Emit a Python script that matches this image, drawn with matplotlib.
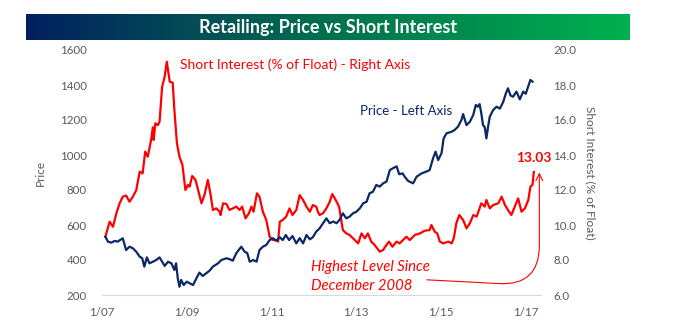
import numpy as np
import matplotlib
matplotlib.use("Agg")
import matplotlib.pyplot as plt
from matplotlib.colors import LinearSegmentedColormap

# Retailing index price (left axis), dates as decimal years
price_dates = [
    2007.08, 2007.14, 2007.22, 2007.30, 2007.37, 2007.49, 2007.57, 2007.65, 2007.73, 2007.81,
    2007.89, 2007.95, 2008.00, 2008.06, 2008.12, 2008.20, 2008.28, 2008.36, 2008.42, 2008.48,
    2008.56, 2008.64, 2008.71, 2008.75, 2008.79, 2008.83, 2008.87, 2008.93, 2009.00, 2009.07,
    2009.15, 2009.23, 2009.30, 2009.38, 2009.46, 2009.54, 2009.62, 2009.74, 2009.82, 2009.94,
    2010.01, 2010.09, 2010.17, 2010.29, 2010.37, 2010.43, 2010.49, 2010.57, 2010.65, 2010.72,
    2010.80, 2010.88, 2010.96, 2011.04, 2011.12, 2011.20, 2011.27, 2011.34, 2011.42, 2011.50,
    2011.59, 2011.67, 2011.75, 2011.83, 2011.91, 2011.98, 2012.06, 2012.14, 2012.22, 2012.30,
    2012.38, 2012.46, 2012.54, 2012.61, 2012.69, 2012.77, 2012.85, 2012.93, 2013.01, 2013.09,
    2013.17, 2013.25, 2013.32, 2013.40, 2013.48, 2013.56, 2013.64, 2013.72, 2013.80, 2013.87,
    2013.96, 2014.02, 2014.10, 2014.15, 2014.23, 2014.35, 2014.43, 2014.55, 2014.66, 2014.74,
    2014.82, 2014.88, 2014.94, 2015.02, 2015.07, 2015.14, 2015.26, 2015.33, 2015.41, 2015.49,
    2015.53, 2015.61, 2015.69, 2015.77, 2015.83, 2015.88, 2015.92, 2015.96, 2016.00, 2016.04,
    2016.08, 2016.12, 2016.16, 2016.24, 2016.32, 2016.40, 2016.48, 2016.54, 2016.59, 2016.65,
    2016.71, 2016.79, 2016.87, 2016.95, 2017.01, 2017.07, 2017.12, 2017.17,
]
price = [
    533, 505, 499, 509, 505, 524, 457, 476, 467, 447,
    419, 410, 362, 415, 381, 390, 400, 415, 390, 366,
    390, 381, 343, 381, 295, 247, 286, 257, 276, 267,
    257, 295, 328, 309, 324, 339, 362, 381, 400, 410,
    405, 396, 438, 476, 447, 440, 390, 400, 390, 457,
    476, 486, 514, 524, 510, 530, 514, 543, 514, 537,
    495, 525, 495, 543, 518, 530, 562, 581, 610, 638,
    610, 620, 610, 629, 667, 638, 648, 667, 676, 695,
    724, 733, 781, 790, 829, 819, 838, 848, 914, 924,
    935, 890, 895, 876, 852, 838, 876, 895, 905, 914,
    981, 1019, 971, 1010, 1095, 1124, 1133, 1143, 1162, 1200,
    1234, 1171, 1190, 1229, 1286, 1276, 1291, 1238, 1171, 1160,
    1095, 1162, 1219, 1257, 1276, 1265, 1305, 1352, 1381, 1340,
    1333, 1362, 1318, 1362, 1350, 1394, 1429, 1419,
]

# Short interest, % of float (right axis)
si_dates = [
    2007.08, 2007.18, 2007.26, 2007.34, 2007.41, 2007.49, 2007.57, 2007.65, 2007.73, 2007.81,
    2007.89, 2007.96, 2008.02, 2008.08, 2008.16, 2008.20, 2008.22, 2008.26, 2008.32, 2008.36,
    2008.42, 2008.48, 2008.53, 2008.60, 2008.67, 2008.71, 2008.77, 2008.83, 2008.90, 2008.97,
    2009.03, 2009.07, 2009.13, 2009.21, 2009.29, 2009.35, 2009.42, 2009.50, 2009.56, 2009.62,
    2009.70, 2009.78, 2009.80, 2009.86, 2009.94, 2010.01, 2010.09, 2010.17, 2010.25, 2010.31,
    2010.39, 2010.47, 2010.53, 2010.58, 2010.66, 2010.72, 2010.80, 2010.88, 2010.96, 2011.04,
    2011.12, 2011.16, 2011.20, 2011.27, 2011.35, 2011.43, 2011.50, 2011.59, 2011.67, 2011.75,
    2011.83, 2011.91, 2011.98, 2012.06, 2012.10, 2012.14, 2012.22, 2012.30, 2012.38, 2012.44,
    2012.52, 2012.60, 2012.69, 2012.77, 2012.85, 2012.93, 2013.05, 2013.13, 2013.21, 2013.28,
    2013.36, 2013.44, 2013.56, 2013.64, 2013.72, 2013.78, 2013.86, 2013.96, 2014.03, 2014.11,
    2014.19, 2014.27, 2014.39, 2014.51, 2014.62, 2014.74, 2014.78, 2014.86, 2014.92, 2014.98,
    2015.06, 2015.18, 2015.26, 2015.31, 2015.37, 2015.44, 2015.53, 2015.61, 2015.69, 2015.77,
    2015.85, 2015.96, 2016.04, 2016.08, 2016.16, 2016.24, 2016.36, 2016.44, 2016.52, 2016.59,
    2016.67, 2016.75, 2016.83, 2016.91, 2016.99, 2017.07, 2017.12, 2017.17, 2017.20,
]
short_interest = [
    9.33, 10.19, 9.90, 10.67, 11.20, 11.62, 11.68, 11.33, 11.62, 12.00,
    13.05, 12.95, 14.19, 13.90, 14.86, 15.58, 14.86, 15.81, 15.71, 15.90,
    17.90, 18.47, 19.33, 18.19, 18.13, 16.57, 14.67, 13.90, 13.43, 12.00,
    12.29, 12.19, 12.80, 12.57, 11.81, 11.24, 11.71, 12.57, 11.81, 10.86,
    10.95, 10.76, 10.57, 11.24, 11.20, 10.86, 10.95, 11.05, 10.86, 11.05,
    10.38, 10.67, 11.05, 10.76, 11.81, 11.62, 10.76, 10.29, 9.33, 9.14,
    9.14, 9.05, 10.19, 10.29, 10.48, 10.95, 10.57, 10.86, 11.71, 11.43,
    11.05, 10.76, 11.14, 11.05, 10.76, 10.57, 10.67, 10.95, 11.33, 11.77,
    11.43, 11.05, 9.71, 9.52, 9.43, 9.24, 8.95, 9.52, 9.24, 9.52,
    9.05, 8.86, 8.48, 8.57, 8.86, 9.05, 8.76, 9.05, 8.95, 9.14,
    9.33, 9.14, 9.43, 9.52, 9.67, 9.71, 10.00, 9.62, 9.52, 9.05,
    8.95, 9.05, 8.95, 9.24, 10.10, 10.57, 10.29, 9.81, 10.10, 10.57,
    10.48, 11.24, 11.05, 11.43, 10.95, 11.14, 11.24, 11.62, 11.14, 10.86,
    10.57, 11.05, 11.52, 10.76, 10.95, 11.43, 12.19, 12.29, 13.03,
]

tick_years = [2007, 2009, 2011, 2013, 2015, 2017]
tick_labels = ["1/07", "1/09", "1/11", "1/13", "1/15", "1/17"]
price_ticks = [200, 400, 600, 800, 1000, 1200, 1400, 1600]
si_ticks = [6.0, 8.0, 10.0, 12.0, 14.0, 16.0, 18.0, 20.0]

NAVY = "#0B2765"
RED = "#FF0000"
GREY = "#595959"

plt.rcParams["font.family"] = ["Lato", "DejaVu Sans"]

fig = plt.figure(figsize=(6.78, 3.31), dpi=100)

# gradient title banner
bax = fig.add_axes([26 / 678, 1 - 40 / 331, 604 / 678, 26 / 331])
cmap = LinearSegmentedColormap.from_list("banner", ["#03205E", "#00704F", "#00B050"])
bax.imshow(np.linspace(0, 1, 256).reshape(1, -1), aspect="auto", cmap=cmap,
           extent=[0, 1, 0, 1])
bax.set_axis_off()
bax.text(0.5, 0.48, "Retailing: Price vs Short Interest", color="white",
         fontsize=13, fontweight="bold", ha="center", va="center",
         transform=bax.transAxes)

ax = fig.add_axes([102 / 678, 1 - 295 / 331, 439 / 678, 245 / 331])
ax2 = ax.twinx()

ax.plot(price_dates, price, color=NAVY, lw=1.6, zorder=3)
ax2.plot(si_dates, short_interest, color=RED, lw=1.6)
ax.set_zorder(ax2.get_zorder() + 1)
ax.patch.set_visible(False)

ax.set_xlim(2007.0, 2017.37)
ax.set_ylim(200, 1600)
ax2.set_ylim(6, 20)
ax.set_xticks(tick_years)
ax.set_xticklabels(tick_labels)
ax.set_yticks(price_ticks)
ax2.set_yticks(si_ticks)
ax2.set_yticklabels([f"{v:.1f}" for v in si_ticks])

for a in (ax, ax2):
    for s in a.spines.values():
        s.set_visible(False)
    a.tick_params(length=0, colors=GREY, labelsize=8.3)
ax.spines["bottom"].set_visible(True)
ax.spines["bottom"].set_color("#D9D9D9")
ax.tick_params(axis="x", pad=9)
ax.tick_params(axis="y", pad=11)
ax2.tick_params(axis="y", pad=9)

ax.set_ylabel("Price", color=GREY, fontsize=8.5, labelpad=10)
ax2.set_ylabel("Short Interest (% of Float)", color=GREY, fontsize=8.5,
               rotation=270, labelpad=14)

ax.text(0.178, 0.939, "Short Interest (% of Float) - Right Axis", color=RED,
        fontsize=10, ha="left", va="center", transform=ax.transAxes)
ax.text(0.587, 0.751, "Price - Left Axis", color=NAVY, fontsize=9.5,
        ha="left", va="center", transform=ax.transAxes)

ax2.annotate(f"{short_interest[-1]:.2f}", xy=(si_dates[-1], short_interest[-1]),
             xytext=(0, 6), textcoords="offset points", ha="center", va="bottom",
             color=RED, fontsize=10, fontweight="bold")

ax.text(0.476, 0.0755, "Highest Level Since\nDecember 2008", color=RED,
        fontsize=10.7, fontstyle="italic", ha="left", va="center",
        linespacing=1.45, transform=ax.transAxes)

# curved arrow from the note up to the latest reading
ax2.annotate("", xy=(2017.33, 13.0), xycoords="data",
             xytext=(0.740, 0.062), textcoords=ax.transAxes,
             arrowprops=dict(arrowstyle="->,head_length=0.5,head_width=0.25",
                             color=RED, lw=0.8, shrinkA=0, shrinkB=0,
                             connectionstyle="angle,angleA=-3,angleB=90,rad=40"))

fig.savefig("out.png", dpi=100)
